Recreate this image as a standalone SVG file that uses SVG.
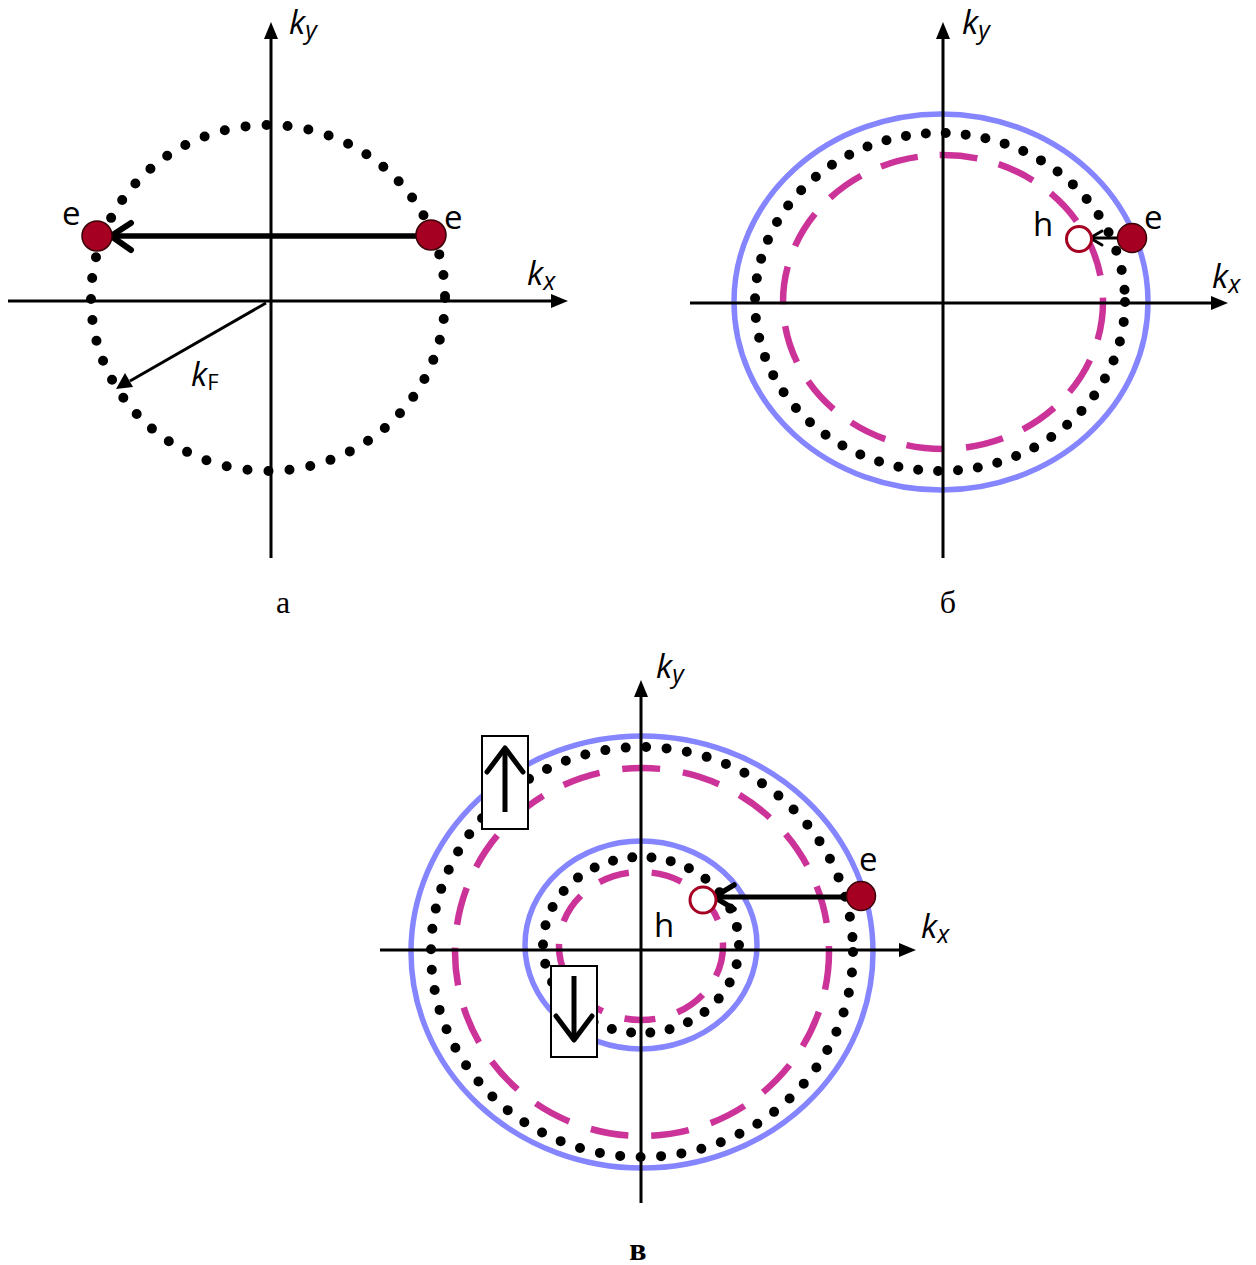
<svg xmlns="http://www.w3.org/2000/svg" width="1256" height="1265" viewBox="0 0 1256 1265">
<style>
.axis{stroke:#000;stroke-width:3;fill:none}
.dots{stroke:#000;stroke-width:10;stroke-linecap:round;fill:none}
.blue{stroke:#8585ff;stroke-width:5.5;fill:none}
.mag{stroke:#cc3399;stroke-width:6.5;fill:none}
.el{fill:#a50021;stroke:#3a0008;stroke-width:1.5}
.hole{fill:#fff;stroke:#a50021;stroke-width:3}
.lbl{font-family:"Open Sans","Noto Sans",sans-serif;font-size:33px;fill:#000}
.cap{font-family:"Liberation Serif",serif;font-size:32px;fill:#000}
.chev{stroke:#000;fill:none;stroke-linecap:round;stroke-linejoin:round}
</style>
<rect width="1256" height="1265" fill="#fff"/>

<!-- Panel a -->
<g id="panel-a">
<ellipse class="dots" cx="268" cy="298" rx="177" ry="173" stroke-dasharray="0 21.1"/>
<line class="axis" x1="8" y1="301" x2="554" y2="301"/>
<path d="M568,301 L551,294 L551,308 Z"/>
<line class="axis" x1="271" y1="558" x2="271" y2="38"/>
<path d="M271,22 L264,39 L278,39 Z"/>
</g>
<g id="connectors-a">
<line x1="417" y1="236" x2="112" y2="236" stroke="#000" stroke-width="5.5"/>
<path class="chev" d="M131,223 L111,236 L131,250" stroke-width="6"/>
<line x1="266" y1="303" x2="130" y2="381" stroke="#000" stroke-width="3"/>
<path d="M116,389 L125,373 L133,387 Z"/>
</g>
<g id="e-a-left"><circle class="el" cx="97" cy="236" r="15"/><text class="lbl" x="62" y="225">e</text></g>
<g id="e-a-right"><circle class="el" cx="431" cy="235" r="15"/><text class="lbl" x="444" y="229">e</text></g>
<text class="lbl" x="527" y="285"><tspan font-style="italic">k</tspan><tspan font-style="italic" font-size="25" dy="5">x</tspan></text>
<text class="lbl" x="289" y="34"><tspan font-style="italic">k</tspan><tspan font-style="italic" font-size="25" dy="5">y</tspan></text>
<text class="lbl" x="191" y="386"><tspan font-style="italic">k</tspan><tspan font-size="22" dy="4">F</tspan></text>
<text class="cap" x="283" y="613" text-anchor="middle">а</text>

<!-- Panel b -->
<g id="panel-b">
<ellipse class="blue" cx="941" cy="302" rx="207" ry="188"/>
<ellipse class="dots" cx="940" cy="302" rx="185" ry="169" stroke-dasharray="0 20"/>
<ellipse class="mag" cx="943" cy="302" rx="160" ry="147" stroke-dasharray="38 22"/>
<line class="axis" x1="690" y1="303" x2="1212" y2="303"/>
<path d="M1228,303 L1211,296 L1211,310 Z"/>
<line class="axis" x1="943" y1="558" x2="943" y2="38"/>
<path d="M943,22 L936,39 L950,39 Z"/>
</g>
<g id="connectors-b">
<line x1="1120" y1="238" x2="1092" y2="238" stroke="#000" stroke-width="3"/>
<path class="chev" d="M1102,231 L1090,238 L1102,245" stroke-width="3"/>
</g>
<g id="h-b"><circle class="hole" cx="1079" cy="239" r="12.5"/><text class="lbl" x="1033" y="236">h</text></g>
<g id="e-b"><circle class="el" cx="1132" cy="238" r="14.5"/><text class="lbl" x="1144" y="229">e</text></g>
<text class="lbl" x="1212" y="288"><tspan font-style="italic">k</tspan><tspan font-style="italic" font-size="25" dy="5">x</tspan></text>
<text class="lbl" x="962" y="34"><tspan font-style="italic">k</tspan><tspan font-style="italic" font-size="25" dy="5">y</tspan></text>
<text class="cap" x="948" y="613" text-anchor="middle">б</text>

<!-- Panel c -->
<g id="panel-c">
<ellipse class="blue" cx="642" cy="952" rx="231" ry="216"/>
<ellipse class="dots" cx="642" cy="952" rx="211" ry="205" stroke-dasharray="0 20.5"/>
<ellipse class="mag" cx="642" cy="952" rx="187" ry="184" stroke-dasharray="38 23"/>
<ellipse class="blue" cx="641" cy="945" rx="116" ry="104"/>
<ellipse class="dots" cx="641" cy="945" rx="98" ry="88" stroke-dasharray="0 19.5"/>
<ellipse class="mag" cx="641" cy="946" rx="82" ry="74" stroke-dasharray="31 23"/>
<line class="axis" x1="380" y1="950" x2="900" y2="950"/>
<path d="M916,950 L899,943 L899,957 Z"/>
<line class="axis" x1="641" y1="1203" x2="641" y2="696"/>
<path d="M641,680 L634,697 L648,697 Z"/>
</g>
<g id="spin-up">
<rect x="482" y="736" width="46" height="93" fill="#fff" stroke="#000" stroke-width="2"/>
<line x1="505" y1="812" x2="505" y2="750" stroke="#000" stroke-width="5"/>
<path class="chev" d="M487,772 L505,748 L523,772" stroke-width="5"/>
</g>
<g id="spin-down">
<rect x="551" y="966" width="46" height="91" fill="#fff" stroke="#000" stroke-width="2"/>
<line x1="574" y1="976" x2="574" y2="1038" stroke="#000" stroke-width="5"/>
<path class="chev" d="M556,1016 L574,1040 L592,1016" stroke-width="5"/>
</g>
<g id="connectors-c">
<line x1="848" y1="897" x2="716" y2="897" stroke="#000" stroke-width="5"/>
<path class="chev" d="M734,885 L714,897 L734,909" stroke-width="5.5"/>
</g>
<g id="h-c"><circle class="hole" cx="703" cy="900" r="13"/><text class="lbl" x="654" y="937">h</text></g>
<g id="e-c"><circle class="el" cx="861" cy="896" r="14.5"/><text class="lbl" x="859" y="871">e</text></g>
<text class="lbl" x="921" y="938"><tspan font-style="italic">k</tspan><tspan font-style="italic" font-size="25" dy="5">x</tspan></text>
<text class="lbl" x="656" y="678"><tspan font-style="italic">k</tspan><tspan font-style="italic" font-size="25" dy="5">y</tspan></text>
<text class="cap" x="638" y="1260" text-anchor="middle" font-weight="bold">в</text>
</svg>
